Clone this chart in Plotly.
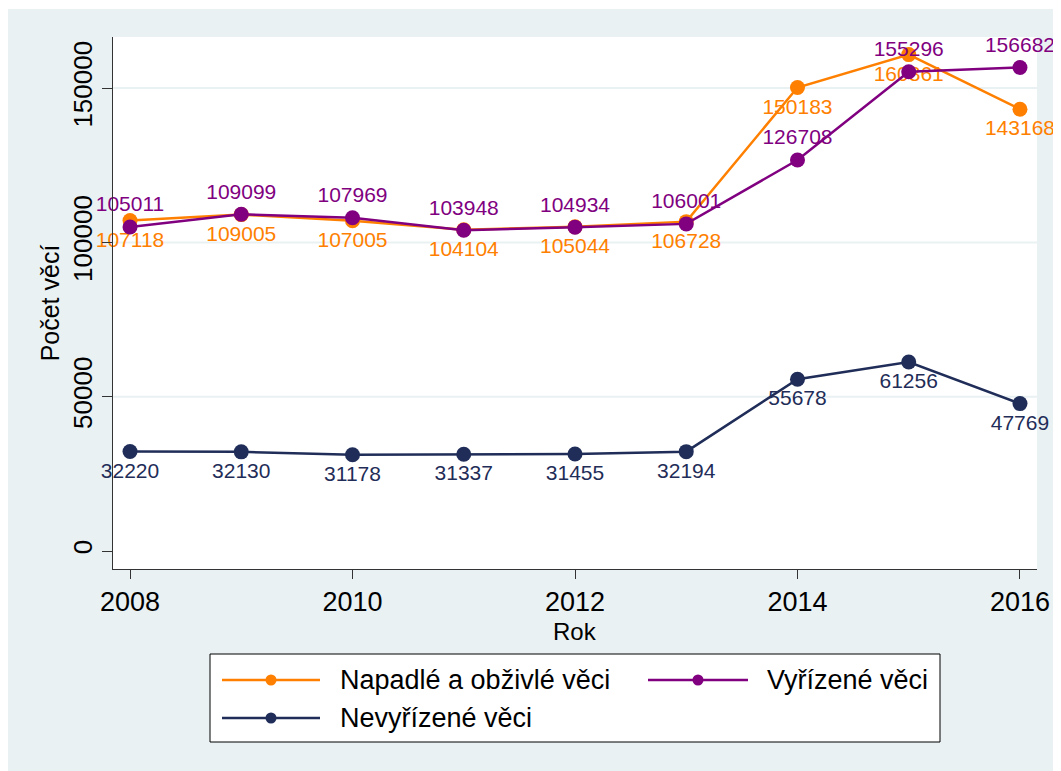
import plotly.graph_objects as go

# ---- data ----
years = [2008, 2009, 2010, 2011, 2012, 2013, 2014, 2015, 2016]
napadle = [107118, 109005, 107005, 104104, 105044, 106728, 150183, 160861, 143168]
vyrizene = [105011, 109099, 107969, 103948, 104934, 106001, 126708, 155296, 156682]
nevyrizene = [32220, 32130, 31178, 31337, 31455, 32194, 55678, 61256, 47769]

series_names = ["Napadlé a obživlé věci", "Vyřízené věci", "Nevyřízené věci"]
series_colors = ["#FF8000", "#800080", "#1F2D58"]
label_positions = ["bottom center", "top center", "bottom center"]

x_ticks = [2008, 2010, 2012, 2014, 2016]
y_ticks = [0, 50000, 100000, 150000]

FONT = "Liberation Sans, Arial, sans-serif"

fig = go.Figure()
for name, vals, col, pos in zip(series_names, [napadle, vyrizene, nevyrizene],
                                series_colors, label_positions):
    fig.add_trace(go.Scatter(
        x=years, y=vals, name=name, mode="lines+markers+text",
        line=dict(color=col, width=2.5),
        marker=dict(color=col, size=15),
        text=[str(v) for v in vals], textposition=pos,
        textfont=dict(color=col, size=21, family=FONT),
        cliponaxis=False, showlegend=False,
    ))

OFF = 8  # page body margin offset
W, H = 1061 - OFF, 771 - OFF
ml, mt = 113 - OFF, 37 - OFF
plot_right, plot_bottom = 1037 - OFF, 569 - OFF
mr, mb = W - plot_right, H - plot_bottom
pw, ph = W - ml - mr, H - mt - mb


def px(x):
    return (x - OFF - ml) / pw


def py(y):
    return (plot_bottom - (y - OFF)) / ph


shapes = []
# outer background
shapes.append(dict(type="rect", xref="paper", yref="paper", layer="below",
                   x0=px(8), x1=px(1070), y0=py(780), y1=py(9),
                   fillcolor="#EAF1F3", line=dict(width=0)))
shapes.append(dict(type="rect", xref="paper", yref="paper", layer="below",
                   x0=0, x1=1, y0=0, y1=1,
                   fillcolor="white", line=dict(width=0)))
# gridlines (except at zero)
for t in y_ticks:
    if t > 0:
        shapes.append(dict(type="line", xref="paper", yref="y", layer="below",
                           x0=0, x1=1, y0=t, y1=t,
                           line=dict(color="#EAF1F3", width=2)))

# legend box
shapes.append(dict(type="rect", xref="paper", yref="paper",
                   x0=px(210), x1=px(940), y0=py(742), y1=py(654),
                   fillcolor="white", line=dict(color="black", width=1)))

annotations = []
leg_pos = [(222, 320, 338, 680), (648, 748, 765, 680), (222, 320, 338, 718)]
for (lx0, lx1, tx, ly), name, col in zip(leg_pos, series_names, series_colors):
    shapes.append(dict(type="line", xref="paper", yref="paper",
                       x0=px(lx0), x1=px(lx1), y0=py(ly), y1=py(ly),
                       line=dict(color=col, width=2.5)))
    cx = (lx0 + lx1) / 2
    r = 5.5
    shapes.append(dict(type="circle", xref="paper", yref="paper",
                       x0=px(cx - r), x1=px(cx + r), y0=py(ly + r), y1=py(ly - r),
                       fillcolor=col, line=dict(color=col, width=0)))
    annotations.append(dict(xref="paper", yref="paper", x=px(tx), y=py(ly),
                            xanchor="left", yanchor="middle", showarrow=False,
                            text=name, font=dict(size=27, color="black", family=FONT)))

# x axis title
annotations.append(dict(xref="paper", yref="paper", x=px(575), y=py(631),
                        xanchor="center", yanchor="middle", showarrow=False,
                        text="Rok", font=dict(size=24, color="black", family=FONT)))

fig.update_layout(
    width=W, height=H,
    margin=dict(l=ml, r=mr, t=mt, b=mb),
    paper_bgcolor="white", plot_bgcolor="white",
    font=dict(family=FONT, color="black"),
    shapes=shapes, annotations=annotations,
    showlegend=False,
    xaxis=dict(
        range=[2007.847, 2016.153], tickvals=x_ticks,
        ticks="outside", ticklen=9, tickcolor="#333", tickwidth=1,
        showline=True, linecolor="#333", linewidth=1, mirror=False,
        showgrid=False, zeroline=False,
        tickfont=dict(size=27, color="black"),
    ),
    yaxis=dict(
        range=[-5833, 166559], tickvals=y_ticks, tickformat="d",
        ticks="outside", ticklen=10, tickcolor="#333", tickwidth=1,
        showline=True, linecolor="#333", linewidth=1,
        showgrid=False, zeroline=False, tickangle=-90,
        tickfont=dict(size=26, color="black"),
        title=dict(text="Počet věcí", font=dict(size=25, color="black"), standoff=0),
    ),
)

fig.write_html("out.html")
